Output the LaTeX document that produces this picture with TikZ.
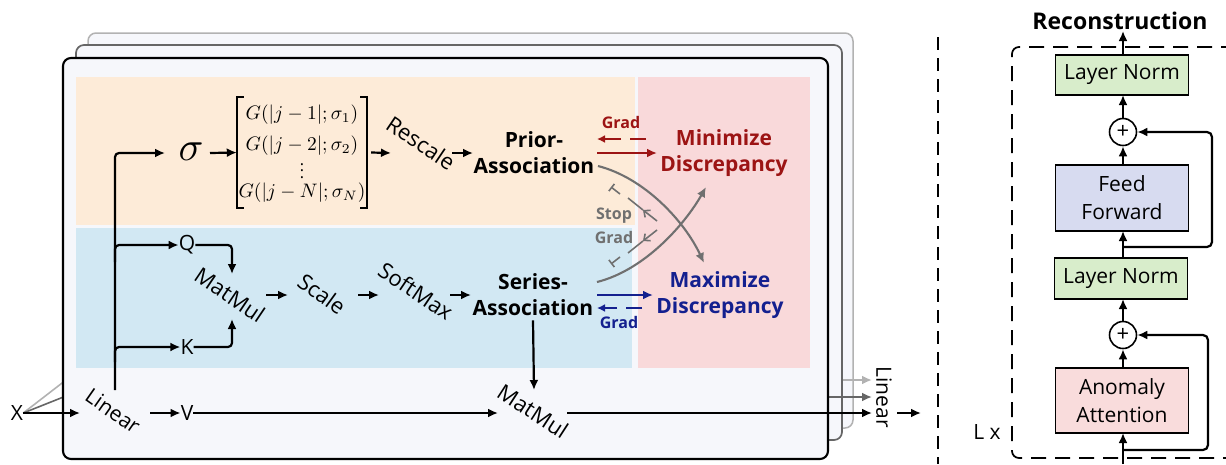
\documentclass[tikz,border=0pt]{standalone}
\usepackage{fontspec}
\setmainfont{Open Sans}
\usetikzlibrary{arrows.meta}

\definecolor{peach}{HTML}{FDEBD8}
\definecolor{skyblue}{HTML}{D2E8F3}
\definecolor{rosebg}{HTML}{F9D9DA}
\definecolor{panelbg}{HTML}{F6F7FB}
\definecolor{minred}{HTML}{9C1414}
\definecolor{maxblue}{HTML}{14208F}
\definecolor{curvegray}{HTML}{707070}
\definecolor{normgreen}{HTML}{D8EDCB}
\definecolor{ffblue}{HTML}{D7DBF0}
\definecolor{attnred}{HTML}{F9DCDC}

\begin{document}
\begin{tikzpicture}[x=1pt,y=-1pt,
  lbl/.style={inner sep=0pt, font=\fontsize{21}{24}\selectfont},
  rlbl/.style={inner sep=0pt, font=\fontsize{22}{24}\selectfont},
  bold/.style={inner sep=0pt, align=center, font=\fontsize{21}{26}\selectfont\bfseries},
  tag/.style={inner sep=0pt, font=\fontsize{16}{17}\selectfont\bfseries},
  wire/.style={line width=2.2pt},
  arr/.style={wire, -{Latex[length=10pt,width=9pt]}},
  garr/.style={line width=2.1pt, curvegray, -{Latex[length=10pt,width=9pt]}},
  stopline/.style={line width=1.6pt, curvegray},
  blockbox/.style={draw, line width=1.4pt, inner sep=0pt, align=center,
    font=\fontsize{21}{28}\selectfont, minimum width=133pt},
  sumnode/.style={draw, circle, line width=1.6pt, minimum size=27pt, inner sep=0pt,
    fill=white, font=\fontsize{22}{22}\selectfont},
]
\useasboundingbox (0,0) rectangle (1226,464);

% ---------- stacked encoder layers ----------
\node[lbl] (X) at (17,413) {X};
\draw[line width=1.6pt, gray!60] (X.east) -- (88,363);
\draw[line width=1.5pt, gray!60, rounded corners=8pt, fill=panelbg] (88,33) rectangle (853,428);
\draw[line width=2pt, gray!60, -{Latex[length=10pt,width=9pt]}] (820,380) -- (872,380);
\draw[line width=1.6pt, black!60] (X.east) -- (76,392);
\draw[line width=1.7pt, black!60, rounded corners=8pt, fill=panelbg] (76,45) rectangle (842,440);
\draw[line width=2pt, black!60, -{Latex[length=10pt,width=9pt]}] (800,397) -- (872,397);
\draw[line width=2.1pt, rounded corners=8pt, fill=panelbg] (63,58) rectangle (828,459);

% coloured bands
\fill[peach] (76,77) rectangle (635,225);
\fill[skyblue] (76,228) rectangle (632,368);
\fill[rosebg] (638,77) rectangle (810,368);

% ---------- input projections ----------
\node[lbl, rotate=-35] (lin) at (113,411) {Linear};
\node[lbl] (V) at (187,413) {V};
\node[lbl] (Q) at (187,245) {Q};
\node[lbl] (K) at (187,347) {K};
\node (sig) at (191,152) {\scalebox{4.1}{$\sigma$}};

\draw[arr] (X.east) -- (80,413);
\draw[arr] (150,413) -- (V.west);
\draw[arr, rounded corners=4pt] (115,390) -- (115,153) -- (165,153);
\draw[arr, rounded corners=4pt] (115,262) -- (115,245) -- (Q.west);
\draw[arr, rounded corners=4pt] (115,362) -- (115,347) -- (K.west);

% ---------- prior branch ----------
\node[minimum width=130pt, minimum height=111pt, inner sep=0pt] (G) at (302,152.5) {};
\draw[line width=1.8pt] ([xshift=7pt]G.north west) -- (G.north west) -- (G.south west) -- ([xshift=7pt]G.south west);
\draw[line width=1.8pt] ([xshift=-7pt]G.north east) -- (G.north east) -- (G.south east) -- ([xshift=-7pt]G.south east);
\node (g1) at (302,115) {\scalebox{1.95}{$G(|j-1|;\sigma_1)$}};
\node (g2) at (302,146) {\scalebox{1.95}{$G(|j-2|;\sigma_2)$}};
\node (g3) at (302,166) {\scalebox{1.6}{$\vdots$}};
\node (g4) at (302,193) {\scalebox{1.95}{$G(|j-N|;\sigma_N)$}};
\draw[arr] (210,153) -- (G.west);

\node[rlbl, rotate=-34] (resc) at (421,143) {Rescale};
\node[bold] (prior) at (534,153) {Prior-\\Association};
\draw[arr] (G.east) ++(4,0) -- (391,153);
\draw[arr] (452,153) -- (473,153);

% ---------- series branch ----------
\node[rlbl, rotate=-34] (mm1) at (230,295) {MatMul};
\node[rlbl, rotate=-36] (scale) at (322,294) {Scale};
\node[rlbl, rotate=-34] (soft) at (416,291) {SoftMax};
\node[bold] (series) at (533,295) {Series-\\Association};
\draw[arr, rounded corners=4pt] (Q.east) -- (232,245) -- (232,274);
\draw[arr, rounded corners=4pt] (K.east) -- (232,347) -- (232,319);
\draw[arr] (266,295) -- (288,295);
\draw[arr] (358,295) -- (379,295);
\draw[arr] (450,295) -- (471,295);

% ---------- value path ----------
\node[rlbl, rotate=-33] (mm2) at (533,411) {MatMul};
\draw[arr] (V.east) -- (498,413);
\draw[arr] (series.south) ++(0,4) -- (534,390);
\draw[arr] (567,413) -- (872,413);
\node[lbl, rotate=-90] (lin2) at (884,397) {Linear};
\draw[arr] (897,413) -- (921,413);

% ---------- discrepancy objectives ----------
\node[bold, text=minred] (mini) at (724,153) {Minimize\\Discrepancy};
\node[bold, text=maxblue] (maxi) at (720,295) {Maximize\\Discrepancy};

\draw[wire, minred, -{Latex[length=10pt,width=9pt]}] (597,153) -- (657,153);
\draw[line width=2pt, minred, dash pattern=on 16pt off 9pt on 40pt, -{Latex[length=8pt,width=8pt]}] (646,139) -- (597,139);
\node[tag, text=minred] (gradr) at (621,122) {Grad};

\draw[wire, maxblue, -{Latex[length=10pt,width=9pt]}] (597,295) -- (653,295);
\draw[line width=2pt, maxblue, dash pattern=on 16pt off 9pt on 40pt, -{Latex[length=8pt,width=8pt]}] (642,308) -- (597,308);
\node[tag, text=maxblue] (gradb) at (619,322) {Grad};

% crossing gradient paths
\draw[garr] (598,166) .. controls (645,178) and (685,222) .. (704,263);
\draw[garr] (597,282) .. controls (645,270) and (685,224) .. (706,187);

% stop-gradient marks
\draw[stopline, -{Straight Barb[length=5pt,width=9pt]}] (657,221) -- (643,210);
\draw[stopline] (643,210) -- (628,198);
\draw[stopline, -{Bar[width=9pt]}] (620,194) -- (611,187);
\draw[stopline, -{Straight Barb[length=5pt,width=9pt]}] (657,230) -- (643,241);
\draw[stopline] (643,241) -- (628,253);
\draw[stopline, -{Bar[width=9pt]}] (620,257) -- (611,264);
\node[tag, text=curvegray] (stop) at (614,216) {Stop};
\node[tag, text=curvegray] (stopg) at (614,237) {Grad};

% ---------- separator ----------
\draw[line width=2.6pt, dash pattern=on 13pt off 8pt] (938,37) -- (938,464);

% ---------- encoder block ----------
\node[inner sep=0pt, font=\fontsize{23}{25}\selectfont\bfseries] (recon) at (1120,21) {Reconstruction};
\draw[line width=1.7pt, dash pattern=on 15pt off 9pt, rounded corners=7pt] (1236,47) -- (1012,47) -- (1012,458) -- (1236,458);
\node[lbl] (lx) at (987,432) {L x};

\node[blockbox, fill=normgreen, minimum height=40pt] (ln1) at (1122,75) {Layer Norm};
\node[sumnode] (p1) at (1123,132) {+};
\node[blockbox, fill=ffblue, minimum height=66pt] (ff) at (1122,198) {Feed\\Forward};
\node[blockbox, fill=normgreen, minimum height=41pt] (ln2) at (1121,278.5) {Layer Norm};
\node[sumnode] (p2) at (1123,335) {+};
\node[blockbox, fill=attnred, minimum height=65pt] (aa) at (1122,400.5) {Anomaly\\Attention};

\draw[arr] (1123,464) -- (1123,433);
\draw[arr] (1123,368) -- (p2.south);
\draw[arr] (p2.north) -- (1123,299);
\draw[arr] (1123,258) -- (1123,231);
\draw[arr] (1123,165) -- (p1.south);
\draw[arr] (p1.north) -- (1123,95);
\draw[arr] (1123,55) -- (1123,31);
\draw[arr, rounded corners=5pt] (1123,450) -- (1208,450) -- (1208,335) -- (p2.east);
\draw[arr, rounded corners=5pt] (1123,247) -- (1212,247) -- (1212,132) -- (p1.east);

\end{tikzpicture}
\end{document}
